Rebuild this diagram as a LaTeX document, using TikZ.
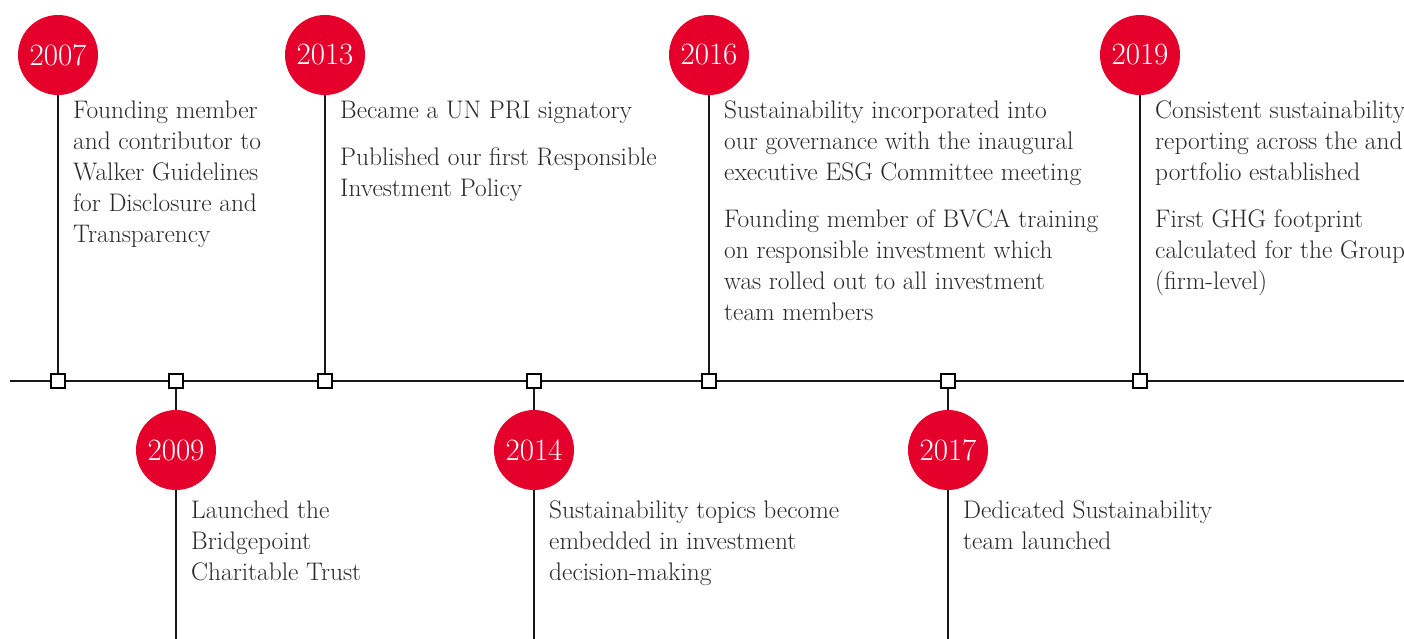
\documentclass[tikz,border=0pt]{standalone}
\usetikzlibrary{backgrounds}
\definecolor{brandred}{RGB}{228,0,43}
\definecolor{txt}{RGB}{40,40,40}
\tikzset{
  x=1pt, y=-1pt,
  year/.style={circle, fill=brandred, minimum size=80pt, inner sep=0pt, text=white, font=\fontsize{31}{31}\selectfont},
  marker/.style={draw=black, fill=white, minimum size=14pt, inner sep=0pt, line width=1.2pt},
  body/.style={anchor=base west, inner sep=0pt, text=txt, font=\fontsize{25.4}{31}\selectfont},
  stem/.style={draw=black!90, line width=1.3pt},
}
\newcommand{\para}[2]{\parbox[t]{#1pt}{\raggedright #2}}
\begin{document}
\begin{tikzpicture}
\useasboundingbox (0,0) rectangle (1404,639);
% markers
\node[marker] (m07) at (58,381) {};
\node[marker] (m09) at (176,381) {};
\node[marker] (m13) at (325,381) {};
\node[marker] (m14) at (534,381) {};
\node[marker] (m16) at (709,381) {};
\node[marker] (m17) at (948,381) {};
\node[marker] (m19) at (1140,381) {};
% circles
\node[year] (c07) at (58,55) {2007};
\node[year] (c13) at (325,55) {2013};
\node[year] (c16) at (709,55) {2016};
\node[year] (c19) at (1140,55) {2019};
\node[year] (c09) at (176,450) {2009};
\node[year] (c14) at (534,450) {2014};
\node[year] (c17) at (948,450) {2017};
\coordinate (L) at (10,381);
\coordinate (R) at (1404,381);
\coordinate (b09) at (176,639);
\coordinate (b14) at (534,639);
\coordinate (b17) at (948,639);
\begin{scope}[on background layer]
\draw[stem] (L) -- (R);
\draw[stem] (c07) -- (m07);
\draw[stem] (c13) -- (m13);
\draw[stem] (c16) -- (m16);
\draw[stem] (c19) -- (m19);
\draw[stem] (m09) -- (c09) -- (b09);
\draw[stem] (m14) -- (c14) -- (b14);
\draw[stem] (m17) -- (c17) -- (b17);
\end{scope}
% texts top
\node[body] (t07) at (73,119) {\para{240}{Founding member\\and contributor to\\Walker Guidelines\\for Disclosure and\\Transparency}};
\node[body] (t13a) at (340,119) {\para{360}{Became a UN PRI signatory}};
\node[body] (t13b) at (340,166) {\para{360}{Published our first Responsible\\Investment Policy}};
\node[body] (t16a) at (724,119) {\para{400}{Sustainability incorporated into\\our governance with the inaugural\\executive ESG Committee meeting}};
\node[body] (t16b) at (724,227) {\para{400}{Founding member of BVCA training\\on responsible investment which\\was rolled out to all investment\\team members}};
\node[body] (t19a) at (1155,119) {\para{280}{Consistent sustainability\\reporting across the and\\portfolio established}};
\node[body] (t19b) at (1155,227) {\para{280}{First GHG footprint\\calculated for the Group\\(firm-level)}};
% texts bottom
\node[body] (t09) at (191,518) {\para{240}{Launched the\\Bridgepoint\\Charitable Trust}};
\node[body] (t14) at (549,518) {\para{360}{Sustainability topics become\\embedded in investment\\decision-making}};
\node[body] (t17) at (963,518) {\para{320}{Dedicated Sustainability\\team launched}};
\end{tikzpicture}
\end{document}
